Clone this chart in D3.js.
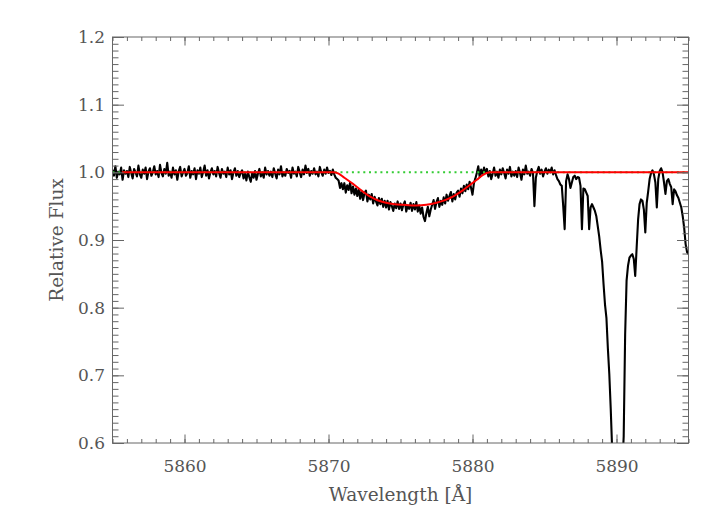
<!DOCTYPE html>
<html>
<head>
<meta charset="utf-8">
<script src="https://cdn.jsdelivr.net/npm/d3@7"></script>
<style>
  body { margin: 0; background: #fff; }
  text { font-family: "DejaVu Serif", serif; fill: #555; }
</style>
</head>
<body>
<div id="chart"></div>
<script>
/**
 * DATA
 * */
// spectrum sampled every 0.1 A starting at 5855.0
const waveStart = 5855.0,
  waveStep = 0.1;
const flux = [
  // 5855
  1.004, 0.995, 1.009, 0.992, 1.001, 0.997, 1.007, 0.989, 1.003, 0.998,
  1.002, 0.993, 1.008, 0.999, 0.991, 1.005, 1.000, 0.994, 1.010, 0.997,
  0.992, 1.004, 0.998, 1.007, 0.990, 1.001, 1.006, 0.995, 1.000, 1.009,
  0.997, 1.002, 0.993, 1.011, 0.999, 0.994, 1.005, 0.998, 1.014, 0.995,
  1.001, 0.992, 1.007, 0.997, 1.003, 0.989, 1.002, 1.008, 0.994, 1.000,
  // 5860
  1.005, 0.995, 0.999, 1.009, 0.992, 1.002, 0.997, 1.006, 0.990, 1.003,
  0.998, 1.007, 0.993, 1.001, 1.010, 0.995, 1.003, 0.991, 1.000, 1.006,
  0.997, 1.002, 0.994, 1.008, 0.999, 0.992, 1.005, 0.998, 1.001, 0.993,
  1.007, 0.997, 1.003, 0.990, 1.000, 1.006, 0.995, 1.002, 0.993, 0.999,
  1.003, 0.991, 0.998, 0.988, 1.001, 0.993, 0.986, 0.999, 0.992, 1.002,
  // 5865
  0.989, 0.998, 1.005, 0.994, 1.000, 0.992, 1.007, 0.997, 1.002, 0.995,
  1.001, 0.993, 1.006, 0.998, 0.991, 1.004, 0.997, 1.009, 0.994, 1.000,
  0.995, 1.005, 0.999, 1.002, 0.992, 1.007, 0.998, 1.001, 0.994, 1.008,
  1.000, 0.993, 1.004, 0.997, 1.010, 0.999, 1.005, 0.995, 1.002, 0.998,
  1.006, 0.997, 1.001, 0.994, 1.008, 1.000, 0.995, 1.004, 0.998, 1.007,
  // 5870
  0.999, 1.002, 0.996, 1.004, 0.997, 0.992, 0.990, 0.988, 0.977, 0.984,
  0.975, 0.984, 0.970, 0.981, 0.974, 0.985, 0.969, 0.979, 0.967, 0.976,
  0.965, 0.975, 0.961, 0.972, 0.959, 0.969, 0.973, 0.957, 0.967, 0.960,
  0.968, 0.954, 0.964, 0.957, 0.951, 0.962, 0.953, 0.961, 0.949, 0.958,
  0.948, 0.958, 0.945, 0.956, 0.950, 0.943, 0.954, 0.947, 0.957, 0.946,
  // 5875
  0.954, 0.944, 0.952, 0.957, 0.942, 0.951, 0.946, 0.955, 0.943, 0.953,
  0.945, 0.956, 0.942, 0.951, 0.939, 0.948, 0.934, 0.928, 0.940, 0.949,
  0.935, 0.945, 0.952, 0.959, 0.946, 0.956, 0.962, 0.949, 0.958, 0.952,
  0.963, 0.954, 0.967, 0.958, 0.965, 0.971, 0.957, 0.968, 0.960, 0.970,
  0.973, 0.964, 0.976, 0.969, 0.980, 0.972, 0.982, 0.975, 0.986, 0.977,
  // 5880
  0.967, 0.984, 0.991, 0.999, 1.009, 0.993, 1.004, 0.997, 1.007, 0.999,
  1.005, 0.994, 1.002, 0.990, 0.998, 1.007, 0.995, 1.001, 0.992, 1.004,
  0.997, 1.006, 0.999, 0.991, 1.004, 0.998, 1.008, 0.994, 1.001, 0.995,
  1.002, 0.993, 1.007, 0.999, 0.989, 1.004, 0.997, 1.010, 0.998, 1.001,
  0.995, 1.005, 0.999, 0.950, 0.992, 1.002, 1.008, 0.998, 1.004, 0.994,
  // 5885
  1.001, 1.006, 0.998, 1.004, 1.000, 1.007, 0.997, 1.003, 0.996, 0.990,
  0.987, 0.982, 0.980, 0.950, 0.916, 0.987, 0.997, 0.990, 0.977, 0.985,
  0.993, 0.995, 0.990, 0.993, 0.992, 0.980, 0.916, 0.976, 0.975, 0.970,
  0.965, 0.916, 0.948, 0.953, 0.948, 0.943, 0.935, 0.920, 0.905, 0.885,
  0.868, 0.835, 0.805, 0.785, 0.740, 0.702, 0.650, 0.590, 0.520, 0.460,
  // 5890
  0.420, 0.430, 0.470, 0.520, 0.560, 0.610, 0.760, 0.840, 0.862, 0.874,
  0.877, 0.879, 0.872, 0.847, 0.889, 0.930, 0.953, 0.960, 0.958, 0.945,
  0.911, 0.955, 0.972, 0.990, 0.999, 1.003, 0.997, 0.985, 0.948, 0.990,
  1.002, 1.006, 1.000, 0.985, 0.968, 0.987, 0.990, 0.983, 0.978, 0.953,
  0.975, 0.972, 0.966, 0.962, 0.955, 0.948, 0.935, 0.918, 0.894, 0.882,
  // 5895
  0.879
];

// red fitted profile
const fitWave = [5855.65, 5870.3, 5870.7, 5871.1, 5871.7, 5872.3, 5872.9, 5873.5, 5874.0, 5874.6,
  5875.2, 5876.1, 5876.8, 5877.5, 5878.1, 5878.7, 5879.3, 5879.8, 5880.3, 5880.7, 5881.2, 5895.0];
const fitFlux = [1.0, 1.0, 0.998, 0.992, 0.983, 0.973, 0.964, 0.958, 0.955, 0.953,
  0.952, 0.951, 0.952, 0.955, 0.959, 0.965, 0.973, 0.981, 0.989, 0.996, 1.0, 1.0];

// green dotted continuum
const contWave = [5855.0, 5895.0];
const contFlux = [1.0, 1.0];

// axes
const xDomain = [5855, 5895];
const yDomain = [0.6, 1.2];
const xMajor = [5860, 5870, 5880, 5890];
const yMajor = [0.6, 0.7, 0.8, 0.9, 1.0, 1.1, 1.2];
const xTitle = "Wavelength [Å]";
const yTitle = "Relative Flux";

/**
 * CONSTANTS
 * */
const width = 723,
  height = 516,
  margin = { top: 37, bottom: 73, left: 112.5, right: 34.5 };

const innerW = width - margin.left - margin.right,
  innerH = height - margin.top - margin.bottom;

const svg = d3.select("#chart")
  .append("svg")
  .attr("width", width)
  .attr("height", height);

svg.append("rect").attr("width", width).attr("height", height).attr("fill", "#fff");

const x = d3.scaleLinear().domain(xDomain).range([margin.left, margin.left + innerW]);
const y = d3.scaleLinear().domain(yDomain).range([margin.top + innerH, margin.top]);

svg.append("clipPath").attr("id", "clip")
  .append("rect")
  .attr("x", margin.left).attr("y", margin.top)
  .attr("width", innerW).attr("height", innerH);

const plot = svg.append("g").attr("clip-path", "url(#clip)");

// spectrum
const spec = flux.map((f, i) => ({ w: waveStart + i * waveStep, f }));
plot.append("path")
  .datum(spec)
  .attr("fill", "none")
  .attr("stroke", "#000")
  .attr("stroke-width", 2.1)
  .attr("stroke-linejoin", "round")
  .attr("d", d3.line().x(d => x(d.w)).y(d => y(d.f)));

// continuum
plot.append("path")
  .datum(contWave.map((w, i) => ({ w, f: contFlux[i] })))
  .attr("fill", "none")
  .attr("stroke", "#3c3")
  .attr("stroke-width", 2)
  .attr("stroke-dasharray", "2 3.7")
  .attr("d", d3.line().x(d => x(d.w)).y(d => y(d.f)));

// fit
plot.append("path")
  .datum(fitWave.map((w, i) => ({ w, f: fitFlux[i] })))
  .attr("fill", "none")
  .attr("stroke", "#f00")
  .attr("stroke-width", 2)
  .attr("d", d3.line().curve(d3.curveMonotoneX).x(d => x(d.w)).y(d => y(d.f)));

// axes, ticks point inwards like IDL
const axisColor = "#666";
function styleAxis(g) {
  g.select(".domain").remove();
  g.selectAll("line").attr("stroke", axisColor);
  g.selectAll("text").attr("font-size", 17).attr("fill", "#555")
    .attr("font-family", "DejaVu Serif");
}

const xMinor = x.ticks(40);
const yMinor = d3.range(0, 61).map(i => 0.6 + i * 0.01);

svg.append("g").attr("transform", `translate(0,${margin.top + innerH})`)
  .call(d3.axisBottom(x).tickValues(xMinor).tickSize(-4).tickFormat(""))
  .call(styleAxis);
svg.append("g").attr("transform", `translate(0,${margin.top + innerH})`)
  .call(d3.axisBottom(x).tickValues(xMajor).tickSize(-8.5).tickPadding(17).tickFormat(d3.format("d")))
  .call(styleAxis);
svg.append("g").attr("transform", `translate(0,${margin.top})`)
  .call(d3.axisTop(x).tickValues(xMinor).tickSize(-4).tickFormat(""))
  .call(styleAxis);
svg.append("g").attr("transform", `translate(0,${margin.top})`)
  .call(d3.axisTop(x).tickValues(xMajor).tickSize(-8.5).tickFormat(""))
  .call(styleAxis);

svg.append("g").attr("transform", `translate(${margin.left},0)`)
  .call(d3.axisLeft(y).tickValues(yMinor).tickSize(-6).tickFormat(""))
  .call(styleAxis);
svg.append("g").attr("transform", `translate(${margin.left},0)`)
  .call(d3.axisLeft(y).tickValues(yMajor).tickSize(-11.5).tickPadding(7.5).tickFormat(d3.format(".1f")))
  .call(styleAxis);
svg.append("g").attr("transform", `translate(${margin.left + innerW},0)`)
  .call(d3.axisRight(y).tickValues(yMinor).tickSize(-6).tickFormat(""))
  .call(styleAxis);
svg.append("g").attr("transform", `translate(${margin.left + innerW},0)`)
  .call(d3.axisRight(y).tickValues(yMajor).tickSize(-11.5).tickFormat(""))
  .call(styleAxis);

// frame
svg.append("rect")
  .attr("x", margin.left).attr("y", margin.top)
  .attr("width", innerW).attr("height", innerH)
  .attr("fill", "none").attr("stroke", axisColor).attr("stroke-width", 1);

// titles
svg.append("text")
  .attr("x", margin.left + innerW / 2)
  .attr("y", 501)
  .attr("text-anchor", "middle")
  .attr("font-size", 18.5)
  .text(xTitle);

svg.append("text")
  .attr("transform", `translate(63,${margin.top + innerH / 2}) rotate(-90)`)
  .attr("text-anchor", "middle")
  .attr("font-size", 18.5)
  .text(yTitle);
</script>
</body>
</html>
